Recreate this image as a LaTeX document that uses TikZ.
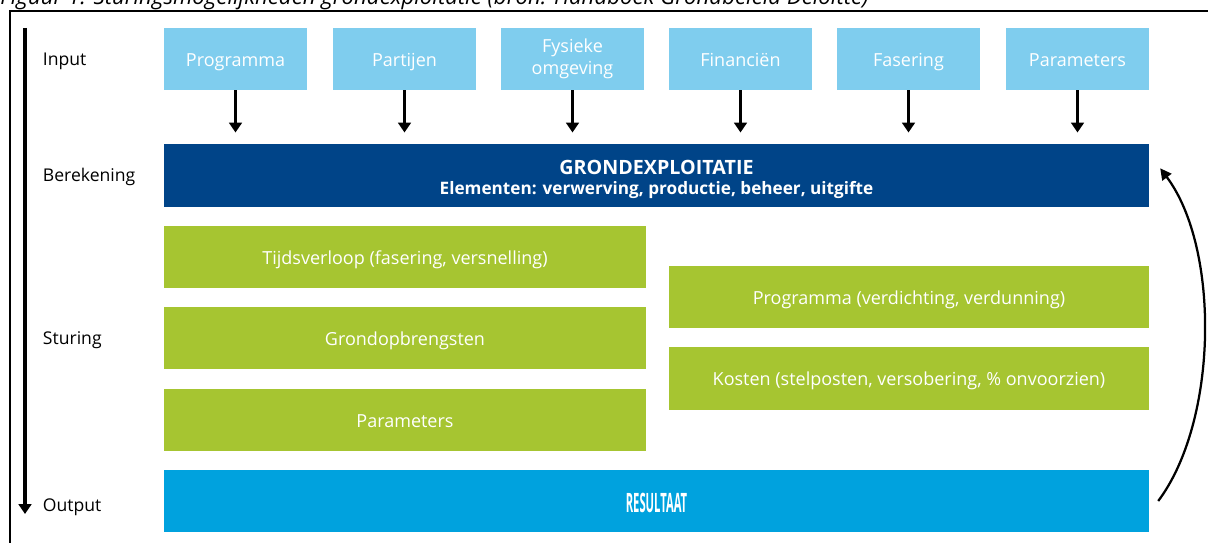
\documentclass[tikz,border=0pt]{standalone}
\usepackage{fontspec}
\setmainfont{Open Sans}
\usetikzlibrary{arrows.meta}
\definecolor{inblauw}{RGB}{127,205,238}
\definecolor{donkerblauw}{RGB}{0,68,136}
\definecolor{groen}{RGB}{166,197,49}
\definecolor{resblauw}{RGB}{0,162,222}

\begin{document}
\begin{tikzpicture}[x=0.025cm,y=-0.025cm,
  blok/.style={fill=#1,text=white,inner sep=0pt,minimum height=1.55cm,
    align=center,font=\fontsize{12.8}{15.5}\selectfont},
  regel/.style={text height=12pt,text depth=2pt},
  label/.style={anchor=west,font=\fontsize{12.5}{15}\selectfont},
  pijl/.style={line width=2.2pt,-{Triangle[width=9pt,length=7pt]}}]
\useasboundingbox (0,0) rectangle (1208,543);
% kader en bijschrift
\draw[line width=1.6pt] (10,560) -- (10,11) -- (1220,11);
\node[anchor=base west,inner sep=0pt] (cap) at (0,5)
  {\resizebox{21.7cm}{!}{\itshape Figuur 1: Sturingsmogelijkheden grondexploitatie (bron: Handboek Grondbeleid Deloitte)}};
% fasen
\coordinate (top) at (25,28);
\coordinate (bot) at (25,514);
\draw[pijl] (top) -- (bot);
\node[label] (li) at (38,61) {Input};
\node[label] (lb) at (38,177) {Berekening};
\node[label] (ls) at (38,340) {Sturing};
\node[label] (lo) at (38,507) {Output};
% input
\node[blok=inblauw,regel,minimum width=3.575cm] (a) at (235.5,59) {Programma};
\node[blok=inblauw,regel,minimum width=3.575cm] (b) at (404.5,59) {Partijen};
\node[blok=inblauw,minimum width=3.575cm] (c) at (572.5,59) {Fysieke\\omgeving};
\node[blok=inblauw,regel,minimum width=3.575cm] (d) at (740.5,59) {Financiën};
\node[blok=inblauw,regel,minimum width=3.575cm] (e) at (908.5,59) {Fasering};
\node[blok=inblauw,regel,minimum width=3.575cm] (f) at (1077.5,59) {Parameters};
% berekening
\node[blok=donkerblauw,minimum width=24.625cm,minimum height=1.575cm] (g) at (656.5,175.5)
  {\rule{0pt}{16pt}{\fontsize{14}{16}\selectfont\bfseries GRONDEXPLOITATIE}\\[-1pt]
   {\fontsize{12.2}{15}\selectfont\bfseries Elementen: verwerving, productie, beheer, uitgifte}};
% sturing
\node[blok=groen,regel,minimum width=12.05cm] (h) at (405,257) {Tijdsverloop (fasering, versnelling)};
\node[blok=groen,regel,minimum width=12.05cm] (i) at (405,338) {Grondopbrengsten};
\node[blok=groen,regel,minimum width=12.05cm] (j) at (405,420) {Parameters};
\node[blok=groen,regel,minimum width=12cm] (k) at (909,297) {Programma (verdichting, verdunning)};
\node[blok=groen,regel,minimum width=12cm] (l) at (909,378.5) {Kosten (stelposten, versobering, \% onvoorzien)};
% output
\node[blok=resblauw,regel,text height=19pt,minimum width=24.625cm] (r) at (656.5,501)
  {\scalebox{0.42}[1]{\fontsize{19}{21}\selectfont\bfseries RESULTAAT}};
\path[pijl,shorten >=0.28cm]
(a) edge (a.south |- g.north)
(b) edge (b.south |- g.north)
(c) edge (c.south |- g.north)
(d) edge (d.south |- g.north)
(e) edge (e.south |- g.north)
(f) edge (f.south |- g.north)
;
\draw[line width=1.6pt,-{Triangle[width=8pt,length=8pt]}]
  ([xshift=0.22cm]r.east) .. controls +(60,-80) and +(60,80) .. ([xshift=0.27cm,yshift=0.18cm]g.east);
\end{tikzpicture}
\end{document}
